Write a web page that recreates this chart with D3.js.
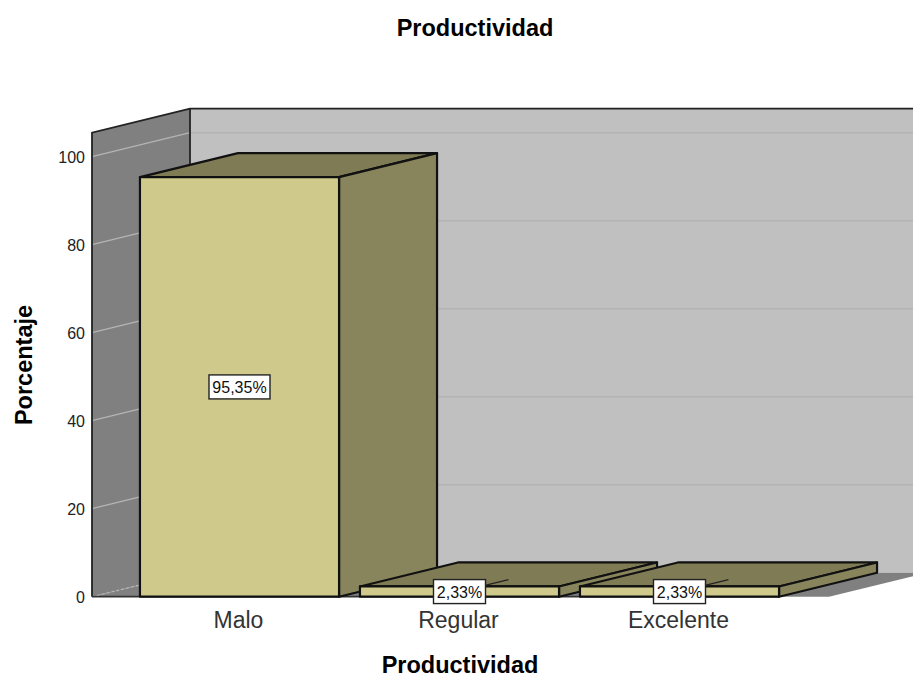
<!DOCTYPE html>
<html>
<head>
<meta charset="utf-8">
<script src="https://cdnjs.cloudflare.com/ajax/libs/d3/7.8.5/d3.min.js"></script>
<style>
  html, body { margin: 0; padding: 0; background: #fff; }
  svg { display: block; }
  text { font-family: "Liberation Sans", Arial, sans-serif; }
</style>
</head>
<body>
<svg id="chart" width="913" height="678"></svg>
<script>
// Values of the "Productividad" frequency chart
const categories = ["Malo", "Regular", "Excelente"];
const percentages = [95.35, 2.33, 2.33];
const valueLabels = ["95,35%", "2,33%", "2,33%"];
const yTicks = [0, 20, 40, 60, 80, 100];
const yMax = 105.45;

const chartTitle = "Productividad";
const xTitle = "Productividad";
const yTitle = "Porcentaje";

const W = 913, H = 678;
const front = { left: 92, right: 829, bottom: 596.7, top: 132.7 };
const depth = { x: 98, y: -24 };

const colors = {
  backWall: "#c0c0c0", backGrid: "#b3b3b3",
  sideWall: "#808080", sideGrid: "#b4b4b4",
  floor: "#808080", barFront: "#cfca8c", barTop: "#7f7b55", barSide: "#88855c",
  edge: "#111"
};

const svg = d3.select("#chart");
const y = d3.scaleLinear().domain([0, yMax]).range([front.bottom, front.top]);
const x = d3.scaleBand().domain(categories).range([129.5, 789.5])
  .paddingInner(0.095).paddingOuter(0.0475);

const poly = pts => d3.line()(pts) + "Z";
const back = ([px, py]) => [px + depth.x, py + depth.y];

// Room: back wall, floor and left wall
const backLeft = front.left + depth.x;
const backBottom = front.bottom + depth.y;
const backTop = front.top + depth.y;

svg.append("path")
  .attr("d", poly([[backLeft, backTop], [W + 5, backTop], [W + 5, backBottom], [backLeft, backBottom]]))
  .attr("fill", colors.backWall);

svg.append("path")
  .attr("d", poly([[front.left, front.bottom], [front.right, front.bottom],
                   back([front.right, front.bottom]), [backLeft, backBottom]]))
  .attr("fill", colors.floor);

svg.append("g").selectAll("line").data(yTicks.filter(t => t > 0)).join("line")
  .attr("x1", backLeft).attr("x2", W)
  .attr("y1", t => y(t) + depth.y).attr("y2", t => y(t) + depth.y)
  .attr("stroke", colors.backGrid).attr("stroke-width", 1.5);

svg.append("path")
  .attr("d", poly([[front.left, front.top], [backLeft, backTop], [backLeft, backBottom], [front.left, front.bottom]]))
  .attr("fill", colors.sideWall);

svg.append("g").selectAll("line").data(yTicks).join("line")
  .attr("x1", front.left).attr("x2", backLeft)
  .attr("y1", t => y(t)).attr("y2", t => y(t) + depth.y)
  .attr("stroke", colors.sideGrid).attr("stroke-width", 1.3)
  .attr("stroke-dasharray", t => t === 0 ? "3 2" : null);

// Room outline
svg.append("path")
  .attr("d", d3.line()([[front.left, front.bottom], [front.left, front.top], [backLeft, backTop], [W, backTop]]))
  .attr("fill", "none").attr("stroke", "#222").attr("stroke-width", 1.8);
svg.append("line")
  .attr("x1", backLeft).attr("x2", backLeft).attr("y1", backTop).attr("y2", backBottom)
  .attr("stroke", "#222").attr("stroke-width", 1.8);
svg.append("line")
  .attr("x1", front.left)
  .attr("x2", x(categories[categories.length - 1]) + x.bandwidth())
  .attr("y1", front.bottom).attr("y2", front.bottom)
  .attr("stroke", "#333").attr("stroke-width", 1.8);

// 3D bars, drawn left to right so each one overlaps its neighbour's side face
const bars = svg.append("g").selectAll("g")
  .data(categories.map((c, i) => ({ c, v: percentages[i], label: valueLabels[i] })))
  .join("g")
  .attr("stroke", colors.edge).attr("stroke-width", 2.2).attr("stroke-linejoin", "round");

const corners = d => {
  const l = x(d.c), r = l + x.bandwidth(), t = y(d.v), b = y(0);
  return { l, r, t, b };
};

bars.append("path")
  .attr("d", d => { const { l, r, t } = corners(d);
    return poly([[l, t], [r, t], back([r, t]), back([l, t])]); })
  .attr("fill", colors.barTop);

bars.append("path")
  .attr("d", d => { const { r, t, b } = corners(d);
    return poly([[r, t], back([r, t]), back([r, b]), [r, b]]); })
  .attr("fill", colors.barSide);

bars.append("path")
  .attr("d", d => { const { l, r, t, b } = corners(d);
    return poly([[l, t], [r, t], [r, b], [l, b]]); })
  .attr("fill", colors.barFront);

// Value labels; flat bars get a leader line running back over the top face
const labelY = d => (y(d.v) + y(0)) / 2;
const labelX = d => x(d.c) + x.bandwidth() / 2;

const labels = svg.append("g").selectAll("g")
  .data(bars.data()).join("g");

labels.filter(d => y(0) - y(d.v) < 23).append("line")
  .attr("x1", labelX).attr("y1", labelY)
  .attr("x2", d => labelX(d) + depth.x / 2).attr("y2", d => labelY(d) + depth.y / 2)
  .attr("stroke", "#222").attr("stroke-width", 1.2);

labels.append("rect")
  .attr("x", d => labelX(d) - (d.v > 10 ? 30.5 : 26))
  .attr("y", d => labelY(d) - 12)
  .attr("width", d => d.v > 10 ? 61 : 52).attr("height", 24)
  .attr("fill", "#fff").attr("stroke", "#222").attr("stroke-width", 1.4);

labels.append("text")
  .attr("x", labelX).attr("y", d => labelY(d) + 6)
  .attr("text-anchor", "middle").attr("font-size", 16).attr("fill", "#111")
  .text(d => d.label);

// Y tick labels
svg.append("g").selectAll("text").data(yTicks).join("text")
  .attr("x", 85).attr("y", t => y(t) + 6)
  .attr("text-anchor", "end").attr("font-size", 16).attr("fill", "#222")
  .text(t => t);

// Category labels
svg.append("g").selectAll("text").data(categories).join("text")
  .attr("x", c => x(c) + x.bandwidth() / 2 - 1).attr("y", 628)
  .attr("text-anchor", "middle").attr("font-size", 23).attr("fill", "#333")
  .text(c => c);

// Titles
svg.append("text").attr("x", 475).attr("y", 36).attr("text-anchor", "middle")
  .attr("font-size", 23.5).attr("font-weight", "bold").attr("fill", "#000").text(chartTitle);
svg.append("text").attr("x", 460).attr("y", 672.5).attr("text-anchor", "middle")
  .attr("font-size", 23.5).attr("font-weight", "bold").attr("fill", "#000").text(xTitle);
svg.append("text").attr("transform", "translate(32,365) rotate(-90)").attr("text-anchor", "middle")
  .attr("font-size", 23.5).attr("font-weight", "bold").attr("fill", "#000").text(yTitle);
</script>
</body>
</html>
